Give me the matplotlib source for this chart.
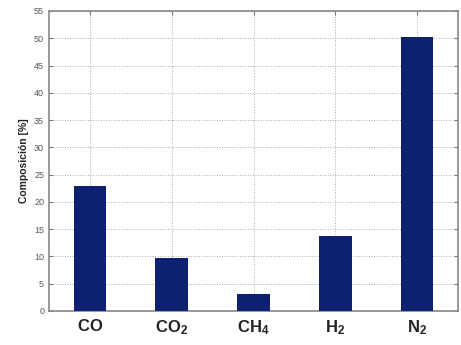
import numpy as np
import matplotlib
matplotlib.use("Agg")
import matplotlib.pyplot as plt

plt.rcParams["font.family"] = ["Liberation Sans", "DejaVu Sans"]
plt.rcParams["mathtext.fontset"] = "custom"
plt.rcParams["mathtext.rm"] = "Liberation Sans"
plt.rcParams["mathtext.bf"] = "Liberation Sans:bold"

# gas composition
labels = [r"$\mathbf{CO}$", r"$\mathbf{CO_2}$", r"$\mathbf{CH_4}$", r"$\mathbf{H_2}$", r"$\mathbf{N_2}$"]
values = [22.9, 9.8, 3.2, 13.8, 50.2]
yticks = np.arange(0, 56, 5)

fig = plt.figure(figsize=(4.61, 3.45), dpi=100)
ax = fig.add_axes([49/461, 1 - 311/345, (458-49)/461, (311-11)/345])

x = np.arange(1, len(values) + 1)
ax.bar(x, values, width=0.4, color="#0e2070", zorder=3)

ax.set_xlim(0.5, 5.5)
ax.set_ylim(0, 55)
ax.set_xticks(x)
ax.set_xticklabels(labels, fontsize=12, color="#222222")
ax.set_yticks(yticks)
ax.set_yticklabels([str(v) for v in yticks], fontsize=6.5, color="#555555")
ax.set_ylabel("Composición [%]", fontsize=7.5, fontweight="bold", labelpad=4, color="#222222")

ax.grid(True, linestyle=":", color="#aaaaaa", linewidth=0.7, zorder=0)
ax.tick_params(axis="both", direction="in", length=3, top=True, right=True, color="#777777")
ax.tick_params(axis="x", pad=5)
for s in ax.spines.values():
    s.set_color("#888888")
    s.set_linewidth(1.2)

fig.savefig("out.png", dpi=100)
